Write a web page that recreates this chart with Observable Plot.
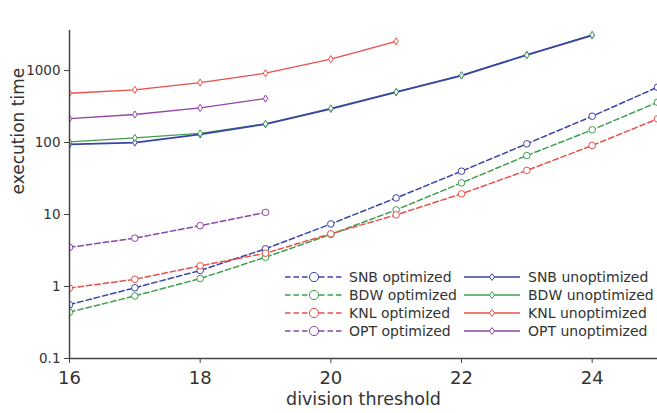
<!DOCTYPE html>
<html>
<head>
<meta charset="utf-8">
<script src="https://cdn.jsdelivr.net/npm/d3@7"></script>
<script src="https://cdn.jsdelivr.net/npm/@observablehq/plot@0.6"></script>
<style>
  html, body { margin: 0; padding: 0; background: #fff; }
  #wrap { position: relative; width: 657px; height: 413px; font-family: "DejaVu Sans", sans-serif; }
  #legend { position: absolute; left: 285px; top: 267.5px; display: grid; grid-template-columns: 179px auto; grid-auto-rows: 18px; font-size: 14px; color: #333; }
  .item { display: flex; align-items: center; white-space: nowrap; }
  .item svg { flex: none; margin-right: 6px; }
</style>
</head>
<body>
<div id="wrap"><div id="legend"></div></div>
<script>
// ---- data ----
const thresholds = [16, 17, 18, 19, 20, 21, 22, 23, 24, 25];
const snbOptimized   = [0.56, 0.96, 1.67, 3.34, 7.4, 17, 40, 96, 232, 587];
const bdwOptimized   = [0.44, 0.74, 1.29, 2.55, 5.3, 11.6, 27.5, 66, 150, 363];
const knlOptimized   = [0.95, 1.26, 1.94, 2.9, 5.4, 9.9, 19.4, 41, 91, 213];
const optOptimized   = [3.5, 4.7, 7.0, 10.7];
const snbUnoptimized = [94, 100, 130, 180, 294, 500, 853, 1650, 3090];
const bdwUnoptimized = [102, 116, 134, 182, 298, 505, 860, 1640, 3120];
const knlUnoptimized = [484, 540, 681, 918, 1440, 2550];
const optUnoptimized = [215, 245, 303, 408];

const xTicks = [16, 18, 20, 22, 24];
const yTicks = [0.1, 1, 10, 100, 1000];
const seriesNames = ["SNB optimized", "BDW optimized", "KNL optimized", "OPT optimized",
                     "SNB unoptimized", "BDW unoptimized", "KNL unoptimized", "OPT unoptimized"];

const colors = { SNB: "#3a44a8", BDW: "#3f9f4f", KNL: "#e8504a", OPT: "#8e44a8" };

const seriesValues = {
  "SNB optimized": snbOptimized, "BDW optimized": bdwOptimized,
  "KNL optimized": knlOptimized, "OPT optimized": optOptimized,
  "SNB unoptimized": snbUnoptimized, "BDW unoptimized": bdwUnoptimized,
  "KNL unoptimized": knlUnoptimized, "OPT unoptimized": optUnoptimized
};

const toRows = name => seriesValues[name].map((v, i) => ({x: thresholds[i], y: v, name}));

// thin diamond symbol
const thinDiamond = {
  draw(context, size) {
    const r = Math.sqrt(size / Math.PI);
    const w = r * 0.62;
    context.moveTo(0, -r);
    context.lineTo(w, 0);
    context.lineTo(0, r);
    context.lineTo(-w, 0);
    context.closePath();
  }
};

const marks = [];
// optimized dashed lines
for (const name of seriesNames.slice(0, 4)) {
  const c = colors[name.split(" ")[0]];
  const rows = toRows(name);
  marks.push(Plot.line(rows, {x: "x", y: "y", stroke: c, strokeWidth: 1.5, strokeDasharray: "5.5,3", clip: true}));
  marks.push(Plot.dot(rows, {x: "x", y: "y", r: 3.3, stroke: c, fill: "white", strokeWidth: 1, clip: true}));
}
// unoptimized solid lines (BDW line under SNB, markers after)
const unoptOrder = ["KNL unoptimized", "OPT unoptimized", "BDW unoptimized", "SNB unoptimized"];
for (const name of unoptOrder) {
  const c = colors[name.split(" ")[0]];
  marks.push(Plot.line(toRows(name), {x: "x", y: "y", stroke: c, strokeWidth: name.startsWith("SNB") ? 1.8 : 1.3, clip: true}));
}
for (const name of ["KNL unoptimized", "OPT unoptimized", "SNB unoptimized", "BDW unoptimized"]) {
  const c = colors[name.split(" ")[0]];
  marks.push(Plot.dot(toRows(name), {x: "x", y: "y", r: 3.6, symbol: thinDiamond, stroke: c, fill: "white", strokeWidth: 1, clip: true}));
}

const chart = Plot.plot({
  width: 657,
  height: 413,
  marginLeft: 69,
  marginRight: 0,
  marginTop: 30,
  marginBottom: 55,
  style: {fontFamily: "DejaVu Sans", background: "white", color: "#333", overflow: "visible"},
  x: {domain: [16, 25]},
  y: {type: "log", domain: [0.1, 3600]},
  marks: [
    ...marks,
    Plot.ruleX([16], {stroke: "#444", strokeWidth: 1.5}),
    Plot.ruleY([0.1], {stroke: "#444", strokeWidth: 1.5}),
    Plot.axisX({ticks: xTicks, tickSize: 5, tickPadding: 8, fontSize: 18, label: null, stroke: "#444", fill: "#333"}),
    Plot.axisY({ticks: yTicks, tickSize: 5, tickPadding: 4, fontSize: 13.5, label: null, tickFormat: d => String(d), stroke: "#444", fill: "#333"}),
    Plot.text(["division threshold"], {frameAnchor: "bottom", dy: 46, fontSize: 17.5, fill: "#333"}),
    Plot.text(["execution time"], {frameAnchor: "left", dx: -51, rotate: -90, fontSize: 17, fill: "#333"})
  ]
});
document.getElementById("wrap").prepend(chart);

// ---- legend ----
const legend = document.getElementById("legend");
const legendOrder = [0, 4, 1, 5, 2, 6, 3, 7];
for (const idx of legendOrder) {
  const name = seriesNames[idx];
  const c = colors[name.split(" ")[0]];
  const optimized = idx < 4;
  const item = document.createElement("div");
  item.className = "item";
  const w = optimized ? 58 : 56;
  const mid = w / 2;
  let marker;
  if (optimized) {
    marker = `<circle cx="${mid}" cy="9" r="4.6" fill="white" stroke="${c}" stroke-width="1"/>`;
  } else {
    marker = `<path d="M${mid},5.6L${mid + 2.6},9L${mid},12.4L${mid - 2.6},9Z" fill="white" stroke="${c}" stroke-width="1"/>`;
  }
  const line = optimized
    ? `<line x1="0" x2="${w}" y1="9" y2="9" stroke="${c}" stroke-width="1.5" stroke-dasharray="5.5,3"/>`
    : `<line x1="0" x2="${w}" y1="9" y2="9" stroke="${c}" stroke-width="1.5"/>`;
  item.innerHTML = `<svg width="${w}" height="18">${line}${marker}</svg><span>${name}</span>`;
  if (!optimized) item.querySelector("svg").style.marginRight = "8px";
  legend.appendChild(item);
}
</script>
</body>
</html>
